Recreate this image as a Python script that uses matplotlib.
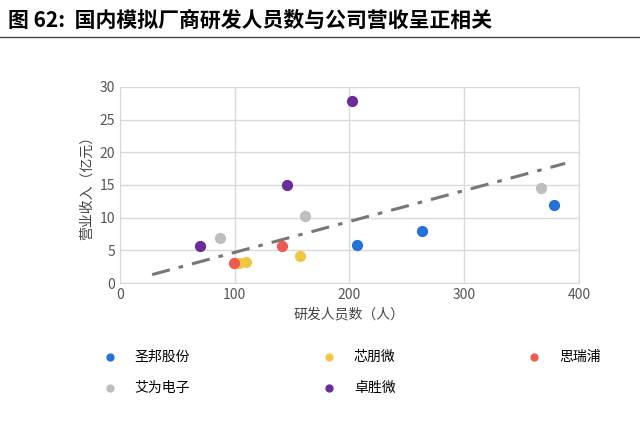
import numpy as np
import matplotlib.pyplot as plt

plt.rcParams['font.family'] = ['Noto Sans CJK SC', 'DejaVu Sans']

names = ['圣邦股份', '芯朋微', '思瑞浦', '艾为电子', '卓胜微']
colors = ['#2272D8', '#EFC843', '#EE5A52', '#BEBEBE', '#6A2C9A']
xs = [[207, 263, 378], [104, 110, 157], [99, 141], [87, 161, 367], [70, 146, 202]]
ys = [[5.8, 7.9, 12.0], [3.1, 3.3, 4.2], [3.1, 5.6], [6.9, 10.2, 14.5], [5.6, 15.0, 27.9]]
trend_x = [28, 388]
trend_y = [1.3, 18.3]

fig = plt.figure(figsize=(6.4, 4.41), dpi=100)
fig.text(0.012, 0.955, '图 62:  国内模拟厂商研发人员数与公司营收呈正相关', fontsize=15,
         fontweight='bold', va='center')
fig.add_artist(plt.Line2D([0.0, 1.0], [0.915, 0.915], color='#444444', lw=1))

ax = fig.add_axes([0.1875, 0.358, 0.717, 0.445])
for n, c, x, y in zip(names, colors, xs, ys):
    ax.scatter(x, y, s=50, color=c, label=n, zorder=3)
ax.plot(trend_x, trend_y, color='#777777', lw=2.2, ls=(0, (6, 3, 1.5, 3)), zorder=2)
ax.set_xlim(0, 400)
ax.set_ylim(0, 30)
ax.set_xticks(range(0, 401, 100))
ax.set_yticks(range(0, 31, 5))
ax.grid(color='#D9D9D9', lw=1)
ax.set_axisbelow(True)
for s in ax.spines.values():
    s.set_color('#D9D9D9')
ax.tick_params(length=0, labelsize=10, colors='#555555')
ax.set_xlabel('研发人员数（人）', fontsize=10, color='#444444')
ax.set_ylabel('营业收入（亿元）', fontsize=10, color='#444444')

handles, labels = ax.get_legend_handles_labels()
order = [0, 3, 1, 4, 2]
fig.legend([handles[i] for i in order], [labels[i] for i in order], ncol=3,
           loc='upper left', bbox_to_anchor=(0.13, 0.235), frameon=False,
           fontsize=10, columnspacing=9, handletextpad=0.8, markerscale=0.7,
           labelspacing=1.2)
fig.savefig('out.png', dpi=100)
